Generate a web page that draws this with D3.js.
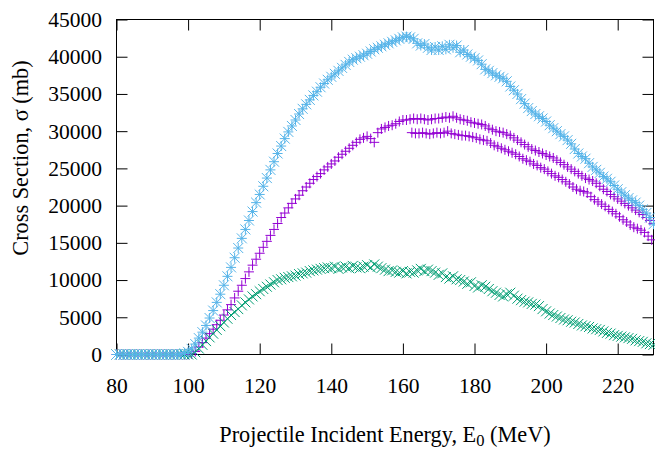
<!DOCTYPE html>
<html>
<head>
<meta charset="utf-8">
<script src="https://cdn.jsdelivr.net/npm/d3@7"></script>
</head>
<body style="margin:0">
<script>
// energy grid (MeV), 1 MeV steps
const energies = d3.range(80, 231, 1);
const xTicks = [80, 100, 120, 140, 160, 180, 200, 220];
const yTicks = [0, 5000, 10000, 15000, 20000, 25000, 30000, 35000, 40000, 45000];

// purple "+" series (upper branch past ~160 MeV)
const purpleVals = [
  0, 0, 0, 0, 0, 0, 0, 0, 0, 0,
  0, 0, 0, 0, 0, 0, 0, 0, 0, 0,
  0, 100, 400, 1000, 1600, 2200, 2800, 3400, 4000, 4600,
  5300, 6000, 6700, 7600, 8500, 9300, 10200, 11100, 12000, 12800,
  13600, 14400, 15200, 16000, 16800, 17600, 18400, 19000, 19700, 20300,
  20900, 21400, 22000, 22500, 23000, 23500, 23900, 24300, 24800, 25200,
  25600, 26000, 26500, 26900, 27300, 27700, 28100, 28500, 28900, 29100,
  29300, 29000, 28500, 29800, 30300, 30500, 30700, 30800, 31000, 31300,
  31500, 31500, 31600, 31700, 31600, 31700, 31600, 31500, 31600, 31700,
  31700, 31800, 31900, 31800, 32000, 31800, 31600, 31500, 31400, 31200,
  31100, 31000, 30900, 30700, 30400, 30200, 30000, 29900, 29800, 29600,
  29400, 29100, 28800, 28500, 28200, 27900, 27600, 27400, 27200, 27000,
  26800, 26600, 26400, 26100, 25800, 25500, 25200, 24900, 24600, 24300,
  24000, 23700, 23500, 23300, 23000, 22600, 22200, 21900, 21500, 21200,
  20900, 20600, 20300, 20000, 19700, 19400, 19100, 18800, 18400, 18000,
  17600
];

// purple lower branch, on half-MeV points
const purpleLowE = d3.range(162.5, 230, 1);
const purpleLowVals = [
  29800, 29700, 29700, 29800, 29700, 29600, 29700, 29800, 29700, 29800,
  30000, 29700, 29600, 29500, 29400, 29400, 29300, 29200, 29100, 28900,
  28800, 28700, 28400, 28100, 27900, 27700, 27500, 27300, 27100, 26900,
  26600, 26300, 26100, 25900, 25600, 25400, 25100, 24900, 24600, 24300,
  24000, 23800, 23500, 23200, 22900, 22500, 22200, 22000, 21900, 21700,
  21200, 20800, 20500, 20200, 19900, 19500, 19200, 18900, 18500, 18100,
  17800, 17400, 17100, 16900, 16700, 16400, 15900, 15400
];

// green "x" series
const greenVals = [
  0, 0, 0, 0, 0, 0, 0, 0, 0, 0,
  0, 0, 0, 0, 0, 0, 0, 0, 0, 0,
  0, 0, 300, 800, 1300, 1800, 2300, 2800, 3300, 3800,
  4300, 4800, 5300, 5700, 6100, 6600, 7000, 7400, 7800, 8100,
  8500, 8800, 9100, 9400, 9700, 10000, 10100, 10300, 10400, 10500,
  10600, 10800, 10900, 11000, 11200, 11300, 11400, 11500, 11600, 11700,
  11600, 11800, 11500, 11700, 11800, 11600, 11900, 11700, 11600, 11800,
  12000, 11700, 12100, 11800, 11600, 11400, 11200, 11300, 11100, 11000,
  11200, 10900, 11100, 11000, 11300, 11500, 11200, 11400, 11200, 11000,
  10700, 10900, 10400, 10200, 10500, 10100, 10000, 9800, 9500, 9700,
  9200, 9000, 9300, 9100, 8800, 8500, 8300, 8000, 7800, 8100,
  8300, 7900, 7500, 7300, 7100, 7000, 6800, 6700, 6500, 6100,
  5800, 5500, 5300, 5100, 4900, 4700, 4600, 4400, 4300, 4100,
  3900, 3800, 3700, 3500, 3400, 3300, 3100, 2900, 2800, 2600,
  2500, 2400, 2300, 2200, 2100, 1900, 1800, 1700, 1500, 1400,
  1300
];

// blue "*" series
const blueVals = [
  0, 0, 0, 0, 0, 0, 0, 0, 0, 0,
  0, 0, 0, 0, 0, 0, 0, 0, 50, 150,
  350, 750, 1400, 2200, 3000, 3900, 4900, 5900, 7000, 8100,
  9300, 10500, 11700, 13000, 14300, 15600, 16800, 18000, 19200, 20400,
  21500, 22600, 23700, 24800, 25900, 27000, 28000, 29000, 29900, 30700,
  31500, 32300, 33000, 33600, 34200, 34800, 35300, 35900, 36400, 36900,
  37300, 37700, 38100, 38500, 38900, 39300, 39600, 39800, 40000, 40200,
  40400, 40700, 41000, 41200, 41400, 41600, 41800, 42000, 42200, 42400,
  42600, 42700, 42600, 42400, 41800, 41500, 41700, 41200, 40900, 41300,
  40900, 41400, 41000, 41600, 41200, 41500, 40600, 40900, 40300, 40000,
  39800, 39500, 39000, 38300, 38100, 37800, 37500, 37300, 37100, 36700,
  36000, 35500, 35000, 34300, 33700, 33100, 32700, 32300, 32000, 31700,
  31300, 30800, 30400, 30000, 29600, 29300, 28800, 28300, 27600, 27000,
  26600, 26300, 25700, 25200, 24800, 24400, 23900, 23600, 23200, 22700,
  22200, 21800, 21400, 21000, 20700, 20400, 20000, 19500, 19000, 18400,
  17500
];

const W = 655, H = 451;
const plot = { left: 116.5, right: 653.5, top: 19.5, bottom: 354.5 };
const fontFamily = '"Liberation Serif"';
const fontSize = "21.5px";
const labelSize = "22.3px";
const tickLen = 11;

const svg = d3.select("body").append("svg")
  .attr("width", W)
  .attr("height", H)
  .style("display", "block");

const x = d3.scaleLinear().domain([80, 230]).range([plot.left, plot.right]);
const y = d3.scaleLinear().domain([0, 45000]).range([plot.bottom, plot.top]);

const setFont = (sel, size = fontSize) => sel
  .style("font-family", fontFamily)
  .style("font-size", size);

// axes (gnuplot style: inward ticks, mirrored)
const styleAxis = g => {
  g.attr("font-family", null).attr("font-size", null);
  g.select(".domain").remove();
  g.selectAll(".tick line").attr("stroke", "#000").attr("stroke-width", 1);
  g.selectAll(".tick text").attr("fill", "#000").call(setFont);
};

svg.append("g")
  .attr("transform", `translate(0,${plot.bottom})`)
  .call(d3.axisBottom(x).tickValues(xTicks).tickSize(-tickLen).tickPadding(22.9).tickFormat(d3.format("d")))
  .call(styleAxis);

svg.append("g")
  .attr("transform", `translate(0,${plot.top})`)
  .call(d3.axisTop(x).tickValues(xTicks).tickSize(-tickLen).tickFormat(""))
  .call(styleAxis);

svg.append("g")
  .attr("transform", `translate(${plot.left},0)`)
  .call(d3.axisLeft(y).tickValues(yTicks).tickSize(-tickLen).tickPadding(14.5).tickFormat(d3.format("d")))
  .call(styleAxis);

svg.append("g")
  .attr("transform", `translate(${plot.right},0)`)
  .call(d3.axisRight(y).tickValues(yTicks).tickSize(-tickLen).tickFormat(""))
  .call(styleAxis);

svg.append("rect")
  .attr("x", plot.left)
  .attr("y", plot.top)
  .attr("width", plot.right - plot.left)
  .attr("height", plot.bottom - plot.top)
  .attr("fill", "none")
  .attr("stroke", "#000")
  .attr("stroke-width", 1);

// point shapes
const h = 5;
const plusPath = `M${-h},0H${h}M0,${-h}V${h}`;
const crossPath = `M${-h},${-h}L${h},${h}M${-h},${h}L${h},${-h}`;
const starPath = plusPath + crossPath;

const drawPoints = (es, vals, shape, color, cls) => {
  svg.append("g")
    .attr("class", cls)
    .selectAll("path")
    .data(vals.map((v, i) => ({ e: es[i], v })))
    .enter()
    .append("path")
    .attr("transform", d => `translate(${x(d.e)},${y(d.v)})`)
    .attr("d", shape)
    .attr("fill", "none")
    .attr("stroke", color)
    .attr("stroke-width", 1);
};

drawPoints(energies, purpleVals, plusPath, "#9400d3", "purple");
drawPoints(purpleLowE, purpleLowVals, plusPath, "#9400d3", "purple-low");
drawPoints(energies, greenVals, crossPath, "#009e73", "green");
drawPoints(energies, blueVals, starPath, "#56b4e9", "blue");

// axis labels
const xLabel = svg.append("text")
  .attr("x", (plot.left + plot.right) / 2)
  .attr("y", 442)
  .attr("text-anchor", "middle")
  .call(setFont, labelSize);
xLabel.append("tspan").text("Projectile Incident Energy, E");
xLabel.append("tspan").attr("dy", 3.5).style("font-size", "16.5px").text("0");
xLabel.append("tspan").attr("dy", -3.5).text(" (MeV)");

svg.append("text")
  .attr("transform", "translate(28,158) rotate(-90)")
  .attr("text-anchor", "middle")
  .call(setFont, labelSize)
  .text("Cross Section, σ (mb)");
</script>
</body>
</html>
